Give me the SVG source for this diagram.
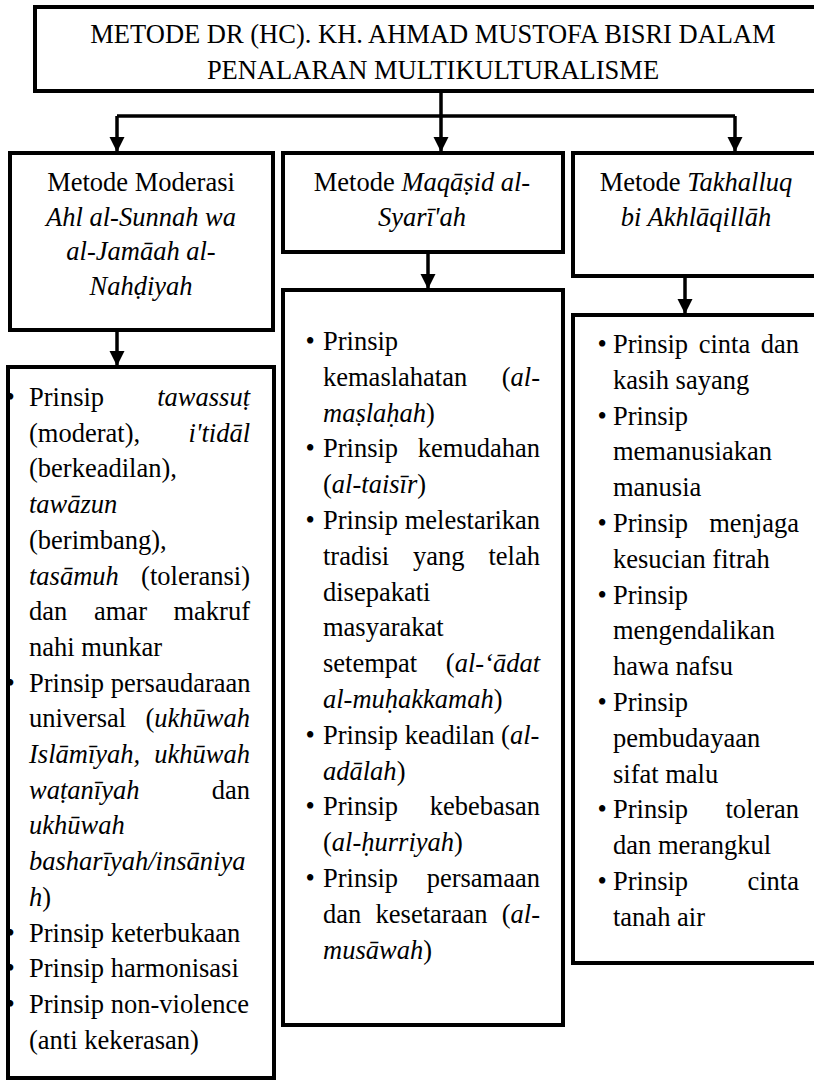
<svg xmlns="http://www.w3.org/2000/svg" width="814" height="1082" viewBox="0 0 814 1082">
<style>
.box{fill:#fff;stroke:#000;stroke-width:4}
.t{font-family:"Liberation Serif","Times New Roman",serif;font-size:26.5px;fill:#000}
.c{text-anchor:middle}
.e{text-anchor:end}
.i{font-style:italic}
.ln{fill:none;stroke:#000;stroke-width:3.5}
</style>
<defs>
<marker id="ah" markerUnits="userSpaceOnUse" markerWidth="16" markerHeight="16" refX="15" refY="7.5" orient="auto">
<path d="M0,0 L15,7.5 L0,15 z" fill="#000"/>
</marker>
</defs>
<rect width="814" height="1082" fill="#fff"/>

<g id="connectors">
<path class="ln" d="M441,91 V116 M117,116 H735"/>
<path class="ln" d="M117,116 V152" marker-end="url(#ah)"/>
<path class="ln" d="M441,116 V152" marker-end="url(#ah)"/>
<path class="ln" d="M735,116 V152" marker-end="url(#ah)"/>
<path class="ln" d="M117,330 V366" marker-end="url(#ah)"/>
<path class="ln" d="M428,252 V289" marker-end="url(#ah)"/>
<path class="ln" d="M685,276 V314" marker-end="url(#ah)"/>
</g>

<g id="title">
<rect class="box" x="35" y="7" width="800" height="84"/>
<text class="t c" x="433" y="43">METODE DR (HC). KH. AHMAD MUSTOFA BISRI DALAM</text>
<text class="t c" x="433" y="79">PENALARAN MULTIKULTURALISME</text>
</g>

<g id="h-moderasi">
<rect class="box" x="10" y="153" width="263" height="177"/>
<text class="t c" x="141" y="191">Metode Moderasi</text>
<text class="t c i" x="141" y="226">Ahl al-Sunnah wa</text>
<text class="t c i" x="141" y="260">al-Jamāah al-</text>
<text class="t c i" x="141" y="295">Nahḍiyah</text>
</g>

<g id="h-maqasid">
<rect class="box" x="283" y="153" width="280" height="99"/>
<text class="t c" x="422" y="191">Metode <tspan class="i">Maqāṣid al-</tspan></text>
<text class="t c i" x="422" y="226">Syarī'ah</text>
</g>

<g id="h-takhalluq">
<rect class="box" x="573" y="153" width="260" height="123"/>
<text class="t c" x="696" y="191">Metode <tspan class="i">Takhalluq</tspan></text>
<text class="t c i" x="696" y="226">bi Akhlāqillāh</text>
</g>

<g id="list-moderasi">
<rect class="box" x="8" y="367" width="266" height="711"/>
<text class="t" x="5.5" y="406">•</text>
<text class="t" x="29" y="406">Prinsip</text>
<text class="t e i" x="250" y="406">tawassuṭ</text>
<text class="t" x="29" y="441.7">(moderat),</text>
<text class="t e i" x="250" y="441.7">i'tidāl</text>
<text class="t" x="29" y="477.4">(berkeadilan),</text>
<text class="t i" x="29" y="513.1">tawāzun</text>
<text class="t" x="29" y="548.8">(berimbang),</text>
<text class="t i" x="29" y="584.5">tasāmuh</text>
<text class="t e" x="250" y="584.5">(toleransi)</text>
<text class="t" x="29" y="620.2">dan</text>
<text class="t" x="94" y="620.2">amar</text>
<text class="t e" x="250" y="620.2">makruf</text>
<text class="t" x="29" y="655.9">nahi munkar</text>
<text class="t" x="5.5" y="691.6">•</text>
<text class="t" x="29" y="691.6">Prinsip persaudaraan</text>
<text class="t" x="29" y="727.3">universal</text>
<text class="t e" x="250" y="727.3">(<tspan class="i">ukhūwah</tspan></text>
<text class="t i" x="29" y="763">Islāmīyah,</text>
<text class="t e i" x="250" y="763">ukhūwah</text>
<text class="t i" x="29" y="798.7">waṭanīyah</text>
<text class="t e" x="250" y="798.7">dan</text>
<text class="t i" x="29" y="834.4">ukhūwah</text>
<text class="t i" x="29" y="870.1">basharīyah/insāniya</text>
<text class="t" x="29" y="905.8"><tspan class="i">h</tspan>)</text>
<text class="t" x="5.5" y="941.5">•</text>
<text class="t" x="29" y="941.5">Prinsip keterbukaan</text>
<text class="t" x="5.5" y="977.2">•</text>
<text class="t" x="29" y="977.2">Prinsip harmonisasi</text>
<text class="t" x="5.5" y="1012.9">•</text>
<text class="t" x="29" y="1012.9">Prinsip non-violence</text>
<text class="t" x="29" y="1048.6">(anti kekerasan)</text>
</g>

<g id="list-maqasid">
<rect class="box" x="283" y="290" width="280" height="735"/>
<text class="t" x="305.5" y="350">•</text>
<text class="t" x="323" y="350">Prinsip</text>
<text class="t" x="323" y="385.8">kemaslahatan</text>
<text class="t e" x="540" y="385.8">(<tspan class="i">al-</tspan></text>
<text class="t" x="323" y="421.6"><tspan class="i">maṣlaḥah</tspan>)</text>
<text class="t" x="305.5" y="457.4">•</text>
<text class="t" x="323" y="457.4">Prinsip</text>
<text class="t e" x="540" y="457.4">kemudahan</text>
<text class="t" x="323" y="493.2">(<tspan class="i">al-taisīr</tspan>)</text>
<text class="t" x="305.5" y="529">•</text>
<text class="t" x="323" y="529">Prinsip melestarikan</text>
<text class="t" x="323" y="564.8">tradisi</text>
<text class="t" x="413" y="564.8">yang</text>
<text class="t e" x="540" y="564.8">telah</text>
<text class="t" x="323" y="600.6">disepakati</text>
<text class="t" x="323" y="636.4">masyarakat</text>
<text class="t" x="323" y="672.2">setempat</text>
<text class="t e" x="540" y="672.2">(<tspan class="i">al-‘ādat</tspan></text>
<text class="t" x="323" y="708"><tspan class="i">al-muḥakkamah</tspan>)</text>
<text class="t" x="305.5" y="743.8">•</text>
<text class="t" x="323" y="743.8">Prinsip keadilan (<tspan class="i">al-</tspan></text>
<text class="t" x="323" y="779.6"><tspan class="i">adālah</tspan>)</text>
<text class="t" x="305.5" y="815.4">•</text>
<text class="t" x="323" y="815.4">Prinsip</text>
<text class="t e" x="540" y="815.4">kebebasan</text>
<text class="t" x="323" y="851.2">(<tspan class="i">al-ḥurriyah</tspan>)</text>
<text class="t" x="305.5" y="887">•</text>
<text class="t" x="323" y="887">Prinsip</text>
<text class="t e" x="540" y="887">persamaan</text>
<text class="t" x="323" y="922.8">dan</text>
<text class="t" x="375.6" y="922.8">kesetaraan</text>
<text class="t e" x="540" y="922.8">(<tspan class="i">al-</tspan></text>
<text class="t" x="323" y="958.6"><tspan class="i">musāwah</tspan>)</text>
</g>

<g id="list-takhalluq">
<rect class="box" x="573" y="315" width="260" height="648"/>
<text class="t" x="597.5" y="353">•</text>
<text class="t" x="613" y="353">Prinsip</text>
<text class="t" x="698.7" y="353">cinta</text>
<text class="t e" x="799" y="353">dan</text>
<text class="t" x="613" y="388.8">kasih sayang</text>
<text class="t" x="597.5" y="424.6">•</text>
<text class="t" x="613" y="424.6">Prinsip</text>
<text class="t" x="613" y="460.4">memanusiakan</text>
<text class="t" x="613" y="496.2">manusia</text>
<text class="t" x="597.5" y="532">•</text>
<text class="t" x="613" y="532">Prinsip</text>
<text class="t e" x="799" y="532">menjaga</text>
<text class="t" x="613" y="567.8">kesucian fitrah</text>
<text class="t" x="597.5" y="603.6">•</text>
<text class="t" x="613" y="603.6">Prinsip</text>
<text class="t" x="613" y="639.4">mengendalikan</text>
<text class="t" x="613" y="675.2">hawa nafsu</text>
<text class="t" x="597.5" y="711">•</text>
<text class="t" x="613" y="711">Prinsip</text>
<text class="t" x="613" y="746.8">pembudayaan</text>
<text class="t" x="613" y="782.6">sifat malu</text>
<text class="t" x="597.5" y="818.4">•</text>
<text class="t" x="613" y="818.4">Prinsip</text>
<text class="t e" x="799" y="818.4">toleran</text>
<text class="t" x="613" y="854.2">dan merangkul</text>
<text class="t" x="597.5" y="890">•</text>
<text class="t" x="613" y="890">Prinsip</text>
<text class="t e" x="799" y="890">cinta</text>
<text class="t" x="613" y="925.8">tanah air</text>
</g>
</svg>
